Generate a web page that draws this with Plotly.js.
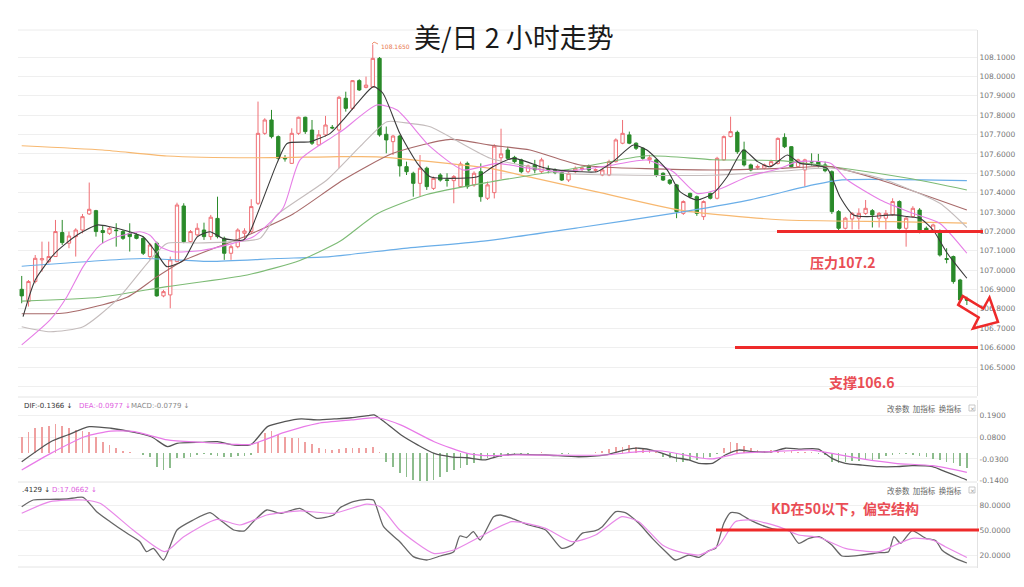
<!DOCTYPE html>
<html><head><meta charset="utf-8">
<script src="https://cdn.plot.ly/plotly-3.0.1.min.js"></script>
<style>html,body{margin:0;padding:0;background:#fff}#chart{width:1024px;height:587px}</style>
</head><body><div id="chart"></div>
<script>
// ---------- price candles (2h bars) ----------
const priceOpen = [106.901,106.838,106.941,107.053,107.044,107.070,107.194,107.139,107.173,107.207,
107.290,107.307,107.204,107.190,107.207,107.199,107.190,107.182,107.164,107.070,
107.139,106.867,106.872,107.044,107.331,107.147,107.182,107.207,107.173,107.267,
107.164,107.087,107.121,107.190,107.199,107.345,107.706,107.775,107.689,107.581,
107.551,107.706,107.789,107.723,107.646,107.698,107.737,107.723,107.887,107.835,
107.978,107.943,107.945,108.093,107.701,107.663,107.692,107.534,107.500,107.448,
107.526,107.422,107.491,107.466,107.462,107.431,107.551,107.440,107.508,107.371,
107.400,107.580,107.620,107.582,107.569,107.508,107.543,107.508,107.520,107.517,
107.503,107.465,107.508,107.522,107.538,107.515,107.491,107.491,107.560,107.655,
107.698,107.655,107.629,107.570,107.569,107.500,107.465,107.440,107.293,107.396,
107.379,107.276,107.396,107.371,107.569,107.689,107.711,107.620,107.543,107.530,
107.526,107.540,107.551,107.685,107.637,107.534,107.517,107.560,107.560,107.543,
107.508,107.302,107.216,107.264,107.268,107.293,107.307,107.268,107.268,107.285,
107.354,107.216,107.276,107.310,107.216,107.200,107.198,107.060,107.070,106.949,106.850];
const priceHigh = [106.970,106.949,107.078,107.147,107.147,107.259,107.259,107.199,107.216,107.290,
107.452,107.311,107.233,107.225,107.242,107.207,107.242,107.190,107.173,107.139,
107.147,106.898,107.070,107.348,107.345,107.207,107.242,107.245,107.285,107.379,
107.173,107.130,107.216,107.216,107.366,107.870,107.784,107.827,107.695,107.594,
107.732,107.792,107.792,107.775,107.723,107.796,107.749,107.899,107.921,107.981,
107.985,107.999,108.165,108.100,107.741,107.698,107.698,107.560,107.508,107.594,
107.534,107.483,107.500,107.500,107.491,107.560,107.560,107.510,107.551,107.457,
107.650,107.730,107.637,107.590,107.575,107.545,107.569,107.580,107.540,107.525,
107.510,107.505,107.535,107.535,107.545,107.525,107.525,107.570,107.680,107.775,
107.715,107.660,107.635,107.595,107.575,107.505,107.470,107.445,107.360,107.400,
107.385,107.360,107.400,107.585,107.695,107.792,107.720,107.663,107.550,107.545,
107.550,107.570,107.685,107.706,107.640,107.575,107.575,107.603,107.600,107.560,
107.515,107.310,107.275,107.300,107.319,107.362,107.315,107.300,107.310,107.371,
107.360,107.275,107.330,107.320,107.225,107.240,107.210,107.113,107.075,106.955,106.863];
const priceLow = [106.829,106.812,106.932,106.992,107.035,107.068,107.130,107.113,107.070,107.190,
107.285,107.173,107.139,107.182,107.121,107.156,107.096,107.159,107.078,107.053,
106.863,106.860,106.803,107.040,107.139,107.142,107.173,107.156,107.156,107.164,
107.053,107.053,107.113,107.156,107.190,107.336,107.698,107.680,107.569,107.560,
107.548,107.698,107.703,107.646,107.641,107.689,107.727,107.526,107.818,107.826,
107.925,107.938,107.940,107.689,107.603,107.594,107.483,107.491,107.379,107.379,
107.414,107.414,107.457,107.431,107.345,107.428,107.420,107.430,107.353,107.362,
107.370,107.470,107.569,107.550,107.500,107.500,107.500,107.500,107.500,107.495,
107.460,107.455,107.500,107.510,107.510,107.505,107.485,107.485,107.555,107.650,
107.650,107.620,107.570,107.550,107.480,107.460,107.440,107.268,107.285,107.370,
107.280,107.259,107.365,107.365,107.565,107.685,107.600,107.535,107.510,107.520,
107.520,107.535,107.545,107.630,107.530,107.530,107.431,107.540,107.530,107.505,
107.290,107.205,107.210,107.210,107.210,107.285,107.220,107.220,107.210,107.280,
107.210,107.121,107.270,107.190,107.195,107.195,107.070,107.035,106.930,106.840,106.820];
const priceClose = [106.867,106.941,107.061,107.059,107.070,107.199,107.142,107.176,107.207,107.276,
107.314,107.199,107.194,107.216,107.204,107.164,107.173,107.164,107.087,107.130,
106.867,106.889,107.053,107.336,107.147,107.199,107.216,107.173,107.273,107.173,
107.087,107.121,107.207,107.202,107.328,107.706,107.775,107.689,107.577,107.574,
107.706,107.789,107.715,107.655,107.698,107.749,107.734,107.892,107.835,107.978,
107.930,107.955,108.093,107.698,107.672,107.692,107.538,107.508,107.448,107.526,
107.431,107.474,107.465,107.463,107.483,107.548,107.431,107.500,107.379,107.440,
107.640,107.600,107.577,107.560,107.508,107.538,107.517,107.569,107.515,107.503,
107.465,107.500,107.526,107.526,107.517,107.518,107.517,107.560,107.672,107.706,
107.655,107.629,107.577,107.580,107.491,107.465,107.448,107.302,107.354,107.379,
107.293,107.354,107.371,107.577,107.689,107.715,107.611,107.543,107.517,107.535,
107.543,107.560,107.680,107.637,107.534,107.569,107.569,107.558,107.540,107.513,
107.302,107.216,107.268,107.293,107.293,107.319,107.285,107.293,107.293,107.354,
107.216,107.268,107.319,107.198,107.205,107.233,107.078,107.055,106.941,106.846,106.845];

// ---------- moving averages (read at bar positions) ----------
const ma5At  = [0.2,2,4.9,8.2,11.2,13.1,16,18,20,21.5,24,26,27.9,29.8,32.8,33.8,37.8,39.3,42.7,45.7,47.6,50.1,52.1,53.5,56,58.6,60.5,62.4,67.5,69.8,72.8,77.8,82.7,85.2,87.6,90.6,92.6,95.6,97.5,100,102.4,104.5,106.9,109,110.9,113.4,115.3,117.2,119.3,121.2,123.2,125.2,129.1,131.2,133.1,135,137.1,140];
const ma5    = [106.76,106.949,107.087,107.181,107.233,107.224,107.198,107.172,107.087,107.018,107.052,107.172,107.198,107.164,107.155,107.198,107.551,107.654,107.663,107.706,107.775,107.878,107.947,107.913,107.706,107.551,107.482,107.474,107.482,107.534,107.577,107.525,107.508,107.508,107.56,107.646,107.62,107.517,107.405,107.362,107.396,107.482,107.62,107.56,107.534,107.594,107.551,107.543,107.525,107.379,107.285,107.276,107.285,107.276,107.267,107.207,107.087,106.958];
const ma10At = [0,4.2,6.7,9.1,11.6,14.1,17.5,19,20.5,22.4,26.4,31.3,34.3,38.7,41.2,46.1,47.6,52.6,55.6,60.5,65.4,70.4,75.3,80.2,87.6,92.6,96.5,100,103.5,107.5,112.3,114.9,119.8,122.3,127.2,132,136,140];
const ma10   = [106.614,106.743,106.863,107.018,107.13,107.172,107.198,107.18,107.121,107.095,107.1,107.138,107.172,107.319,107.568,107.689,107.723,107.852,107.826,107.637,107.517,107.551,107.525,107.508,107.543,107.568,107.508,107.396,107.42,107.482,107.525,107.56,107.551,107.465,107.362,107.293,107.241,107.087];
const ma20At = [0,4.2,9.1,14.1,19,21.5,26,31.3,35.3,37.8,45.2,50.1,54.1,57.5,60.5,69.4,75.3,80.2,102.4,112.3,119.8,127.2,136,140];
const ma20   = [106.708,106.682,106.708,106.846,107.052,107.138,107.14,107.147,107.164,107.285,107.465,107.637,107.766,107.757,107.74,107.577,107.534,107.5,107.49,107.51,107.527,107.474,107.345,107.22];
const ma30At = [0,6.7,15.6,20,24,32.8,40.2,47.6,55,63.5,69.4,75.3,82.7,102.4,112.3,119.8,127.2,140];
const ma30   = [106.775,106.78,106.86,106.965,107.05,107.17,107.29,107.465,107.603,107.675,107.645,107.62,107.543,107.517,107.525,107.534,107.465,107.31];
const ma60At = [0,11.6,21.5,33.4,41.2,47.2,52.6,60,69.4,82.7,92.6,102.4,112.3,119.8,132,140];
const ma60   = [106.84,106.86,106.915,106.975,107.05,107.15,107.29,107.39,107.455,107.53,107.59,107.57,107.565,107.535,107.47,107.414];
const ma120At = [0,18,28,38,45.7,56,68.4,82.7,96,107.5,117.2,121.2,140];
const ma120   = [107.02,107.06,107.045,107.06,107.07,107.11,107.15,107.22,107.29,107.36,107.44,107.465,107.462];
const ma200At = [0,12,21.5,34.3,45.7,52.6,62,69.4,75.3,85.7,97.5,112.3,129,140];
const ma200   = [107.642,107.62,107.589,107.58,107.585,107.585,107.555,107.525,107.48,107.40,107.31,107.26,107.25,107.243];

// ---------- MACD ----------
const macdHist = [0.082,0.108,0.128,0.133,0.138,0.145,0.138,0.128,0.116,0.111,0.108,0.082,0.057,0.040,0.024,0.010,0.003,
0.001,-0.008,-0.020,-0.069,-0.086,-0.077,-0.027,-0.024,-0.019,-0.010,-0.007,-0.010,-0.013,-0.019,-0.019,-0.017,-0.013,-0.010,
0.057,0.099,0.111,0.091,0.082,0.077,0.077,0.057,0.044,0.024,0.020,0.015,0.019,0.024,0.024,0.024,0.024,0.032,0.003,
-0.044,-0.069,-0.103,-0.120,-0.136,-0.141,-0.141,-0.136,-0.120,-0.098,-0.086,-0.077,-0.061,-0.052,-0.035,-0.027,-0.024,-0.019,-0.013,
-0.008,-0.005,-0.003,0.002,0.003,0.001,-0.002,-0.004,-0.003,-0.002,0.001,0.002,0.003,0.008,
0.020,0.030,0.032,0.040,0.032,0.024,0.015,0.007,
-0.019,-0.027,-0.044,-0.044,-0.035,-0.035,-0.027,-0.019,-0.003,
0.024,0.054,0.049,0.037,0.024,0.015,0.010,0.013,0.010,0.007,0.010,0.007,0.003,0.003,
-0.003,-0.010,-0.044,-0.052,-0.044,-0.040,-0.040,-0.035,-0.035,-0.030,-0.013,-0.010,-0.007,-0.007,-0.010,-0.013,-0.019,-0.030,-0.035,-0.044,-0.052,-0.064,-0.078];
const difAt = [0,4.3,6.8,10,13.2,16.7,19.2,21.6,23,26.6,29,31.5,34,36.4,38.9,41.4,43.9,46.3,48.8,51.3,52.2,53.7,56.2,58.7,61.1,63.6,66,68.5,71,72.8,77.6,82.5,86.5,89.9,91.4,93.9,96.3,98.8,100.3,102.3,104.2,106.2,108.2,111.2,113.1,115.1,118,120,122,124.5,127,129.4,131.9,134.9,136.8,138.8,140];
const dif   = [-0.044,0.057,0.091,0.133,0.125,0.104,0.082,0.032,0.049,0.054,0.057,0.040,0.044,0.133,0.158,0.172,0.167,0.172,0.178,0.189,0.192,0.158,0.091,0.040,-0.002,-0.019,-0.024,-0.035,-0.013,-0.007,-0.010,-0.019,-0.010,0.020,0.024,0.010,-0.019,-0.035,-0.052,-0.052,-0.010,0.015,0.007,0.007,0.024,0.020,0.020,-0.027,-0.052,-0.061,-0.069,-0.069,-0.064,-0.069,-0.094,-0.120,-0.1366];
const deaAt = [0,4.3,9.3,13.2,16.7,21.6,26.6,31.5,34,38.9,43.9,48.8,52.7,56.2,61.1,66,68.5,72.8,86.5,91.4,94.9,100.3,102.3,106.2,111.2,117,120,124.5,129.4,134.9,140];
const dea   = [-0.086,-0.002,0.082,0.111,0.108,0.066,0.054,0.044,0.044,0.104,0.150,0.167,0.178,0.141,0.057,-0.002,-0.013,-0.010,-0.010,0.007,0.010,-0.024,-0.030,-0.002,0.007,0.015,-0.002,-0.030,-0.052,-0.064,-0.0977];
const macdTicks = [0.19,0.08,-0.03,-0.14];
const macdTickText = ['0.1900','0.0800','-0.0300','-0.1400'];

// ---------- KD ----------
const kAt = [0,1.7,4.2,6.7,9.1,11.1,13.1,15.6,17.5,18.5,19.5,21,23,25.4,27.9,29.4,31.4,33,34.3,36.3,38.3,41.2,43.7,46.2,47.2,49.1,51.1,52.1,53.6,56,58,60,62,64,64.9,65.9,66.9,67.9,69.9,70.9,72.6,75.1,77.6,80,81.5,83,85,86,88,89.4,91.4,93.4,95.4,96.8,98.8,100.3,101.8,102.8,104,105,106.2,107.7,110.2,112.1,113.6,115.1,116.6,118.1,120,121.5,124.5,127,128.4,129.2,130.2,131.9,133.9,135.4,136.3,138.3,140];
const kVal = [78,86,86.8,87.2,89.2,72,60,46,36,24,28,14,50,62,70.8,62,50,49,60,74,70,76,64,68,77,84,86.8,86,54,36,18,14,18.8,24,42.8,41,48,38,66,68,64,56,50,28,32,46,49.2,54,72,70.8,58,40,24,14,20,17.2,25.2,28,58,70.8,70,62.8,54,50,50,34,40,42,32,18.8,20,22.8,24,42,34,49.2,40,37.2,26,16,10.4];
const dAt = [0,4.2,9.1,11.6,16.5,21.2,24,28.9,32.3,36.3,41.2,46.2,51.1,53.1,56,61,64,67.9,72.6,77.6,81.5,85,88.9,91.4,94.9,97.3,100.3,103.3,105.7,108.2,112.1,115.1,118.1,122,127,129.4,131.9,134.9,136.8,140];
const dVal = [70,84,86,82,50,24,42,62.8,56,68,73,70,81,78,50,22,26,42,60,52,36,44,66,60,32,24,20,32,60,62,54,44,41,28,24,32,40,38,30,17.07];
const kdTicks = [80,50,20];
const kdTickText = ['80.0000','50.0000','20.0000'];

// ---------- price axis labels ----------
const priceTickVals = [106.4,106.5,106.6,106.7,106.8,106.9,107.0,107.1,107.2,107.3,107.4,107.5,107.6,107.7,107.8,107.9,108.0,108.1];
const priceTickText = ['','106.5000','106.6000','106.7000','106.8000','106.9000','107.0000','107.1000','107.2000','107.3000','107.4000','107.5000','107.6000','107.7000','107.8000','107.9000','108.0000','108.1000'];
const resistanceLevel = 107.2, supportLevel = 106.6, kdLevel = 50;

// ---------- layout helpers (pixel -> paper) ----------
const W = 1024, H = 587, ML = 18, MR = 47;
const px = x => (x - ML) / (W - ML - MR);
const py = y => 1 - y / H;
const idx = priceClose.map((_, i) => i);

const line = (xs, ys, color, yaxis, w) => ({type:'scatter', mode:'lines', x:xs, y:ys, yaxis:yaxis,
  line:{color:color, width:w||1, shape:'spline', smoothing:0.6}, hoverinfo:'skip', showlegend:false});

const traces = [
  {type:'candlestick', x:idx, open:priceOpen, high:priceHigh, low:priceLow, close:priceClose, yaxis:'y',
   increasing:{line:{color:'#ef6f75', width:1}, fillcolor:'#ffffff'},
   decreasing:{line:{color:'#2a8a2a', width:1}, fillcolor:'#2a8a2a'},
   whiskerwidth:0, hoverinfo:'skip', showlegend:false},
  line(ma200At, ma200, '#f7b870', 'y', 1.2),
  line(ma120At, ma120, '#6aaee8', 'y', 1.2),
  line(ma60At, ma60, '#7dbb75', 'y', 1.1),
  line(ma30At, ma30, '#a86a6a', 'y', 1.1),
  line(ma20At, ma20, '#c4bcbc', 'y', 1.1),
  line(ma10At, ma10, '#e67ee6', 'y', 1.1),
  line(ma5At, ma5, '#3a3a3a', 'y', 1.1),
  {type:'bar', x:idx, y:macdHist, yaxis:'y2', width:0.25,
   marker:{color:macdHist.map(v => v >= 0 ? '#efa0a0' : '#8cbc8c'), line:{width:0}},
   hoverinfo:'skip', showlegend:false},
  line(difAt, dif, '#555555', 'y2', 1.3),
  line(deaAt, dea, '#e87ae8', 'y2', 1.2),
  line(kAt, kVal, '#666666', 'y3', 1.3),
  line(dAt, dVal, '#e889e8', 'y3', 1.2)
];

const tf = {family:'DejaVu Sans', size:7.5, color:'#777'};
const redText = {family:'Noto Sans CJK SC', size:14, color:'#ea4d55', weight:'bold'};
const layout = {
  width:W, height:H, margin:{l:ML, r:MR, t:0, b:0},
  paper_bgcolor:'#ffffff', plot_bgcolor:'#ffffff', showlegend:false, bargap:0,
  xaxis:{domain:[0,1], range:[-0.55, 141.5], showticklabels:false, showgrid:false, zeroline:false,
         rangeslider:{visible:false}, anchor:'y3', fixedrange:true, ticks:''},
  yaxis:{domain:[py(396), py(30)], range:[106.3503, 108.2394], side:'right', anchor:'x',
         tickvals:priceTickVals, ticktext:priceTickText, tickfont:tf, gridcolor:'#efefef', gridwidth:1,
         zeroline:false, showline:true, linecolor:'#e2e2e2', ticks:'', fixedrange:true},
  yaxis2:{domain:[py(481), py(400)], range:[-0.1414, 0.2677], side:'right', anchor:'x',
         tickvals:macdTicks, ticktext:macdTickText, tickfont:tf, gridcolor:'#f0f0f0',
         zeroline:false, showline:true, linecolor:'#e2e2e2', ticks:'', fixedrange:true},
  yaxis3:{domain:[py(568), py(483)], range:[4.4, 106.4], side:'right', anchor:'x',
         tickvals:kdTicks, ticktext:kdTickText, tickfont:tf, gridcolor:'#f0f0f0',
         zeroline:false, showline:true, linecolor:'#e2e2e2', ticks:'', fixedrange:true},
  shapes:[
    {type:'line', xref:'paper', yref:'paper', x0:0, x1:px(977), y0:py(30), y1:py(30), line:{color:'#ececec', width:1}},
    {type:'line', xref:'paper', yref:'paper', x0:0, x1:px(977), y0:py(397), y1:py(397), line:{color:'#e4e4e4', width:1}},
    {type:'line', xref:'paper', yref:'paper', x0:0, x1:px(977), y0:py(482), y1:py(482), line:{color:'#e4e4e4', width:1}},
    {type:'line', xref:'paper', yref:'paper', x0:0, x1:px(977), y0:py(567), y1:py(567), line:{color:'#e4e4e4', width:1}},
    {type:'line', xref:'paper', yref:'y', x0:px(777), x1:px(983), y0:resistanceLevel, y1:resistanceLevel, line:{color:'#ee2a2a', width:3}},
    {type:'line', xref:'paper', yref:'y', x0:px(735), x1:px(978), y0:supportLevel, y1:supportLevel, line:{color:'#ee2a2a', width:3}},
    {type:'line', xref:'paper', yref:'y3', x0:px(716), x1:px(979), y0:kdLevel, y1:kdLevel, line:{color:'#ee2a2a', width:3}},
    {type:'path', xref:'paper', yref:'paper', line:{color:'#ee2a2a', width:2.5}, fillcolor:'rgba(255,255,255,0)',
     path:'M'+[[958.2,304.9],[978.7,317.4],[973,328.5],[998,322],[989.5,297.5],[983.3,308.6],[962.8,296.1]].map(p=>px(p[0])+','+py(p[1])).join(' L')+' Z'},
    {type:'path', xref:'paper', yref:'paper', line:{color:'#e8774f', width:0.8},
     path:'M'+px(372)+','+py(44)+' L'+px(374)+','+py(42)+' L'+px(378)+','+py(44)},
    {type:'rect', xref:'paper', yref:'paper', x0:px(969), x1:px(975), y0:py(411), y1:py(405), line:{color:'#bbb', width:0.8}},
    {type:'rect', xref:'paper', yref:'paper', x0:px(969), x1:px(975), y0:py(493), y1:py(487), line:{color:'#bbb', width:0.8}}
  ],
  annotations:[
    {text:'美/日 2 小时走势', xref:'paper', yref:'paper', x:px(514), y:py(37), showarrow:false,
     font:{family:'Noto Sans CJK SC', size:27, color:'#1a1a1a'}, xanchor:'center', yanchor:'middle'},
    {text:'108.1650', xref:'paper', yref:'paper', x:px(379), y:py(46), showarrow:false, xanchor:'left', yanchor:'middle',
     font:{family:'DejaVu Sans', size:6, color:'#e8774f'}},
    {text:'压力107.2', xref:'paper', yref:'paper', x:px(843), y:py(262), showarrow:false, xanchor:'center', yanchor:'middle', font:redText},
    {text:'支撑106.6', xref:'paper', yref:'paper', x:px(862), y:py(382), showarrow:false, xanchor:'center', yanchor:'middle', font:redText},
    {text:'KD在50以下，偏空结构', xref:'paper', yref:'paper', x:px(845), y:py(508), showarrow:false, xanchor:'center', yanchor:'middle', font:redText},
    {text:'DIF:-0.1366 ↓', xref:'paper', yref:'paper', x:px(22), y:py(406), showarrow:false, xanchor:'left', yanchor:'middle',
     font:{family:'DejaVu Sans', size:7, color:'#333'}},
    {text:'DEA:-0.0977 ↓', xref:'paper', yref:'paper', x:px(77), y:py(406), showarrow:false, xanchor:'left', yanchor:'middle',
     font:{family:'DejaVu Sans', size:7, color:'#e060e0'}},
    {text:'MACD:-0.0779 ↓', xref:'paper', yref:'paper', x:px(129), y:py(406), showarrow:false, xanchor:'left', yanchor:'middle',
     font:{family:'DejaVu Sans', size:7, color:'#888'}},
    {text:'.4129 ↓', xref:'paper', yref:'paper', x:px(20), y:py(490), showarrow:false, xanchor:'left', yanchor:'middle',
     font:{family:'DejaVu Sans', size:7, color:'#333'}},
    {text:'D:17.0662 ↓', xref:'paper', yref:'paper', x:px(50), y:py(490), showarrow:false, xanchor:'left', yanchor:'middle',
     font:{family:'DejaVu Sans', size:7, color:'#e060e0'}},
    {text:'改参数  加指标  换指标', xref:'paper', yref:'paper', x:px(964), y:py(408), showarrow:false, xanchor:'right', yanchor:'middle',
     font:{family:'Noto Sans CJK SC', size:7.5, color:'#666'}},
    {text:'改参数  加指标  换指标', xref:'paper', yref:'paper', x:px(964), y:py(490), showarrow:false, xanchor:'right', yanchor:'middle',
     font:{family:'Noto Sans CJK SC', size:7.5, color:'#666'}},
    {text:'×', xref:'paper', yref:'paper', x:px(972), y:py(408), showarrow:false, xanchor:'center', yanchor:'middle',
     font:{family:'DejaVu Sans', size:6, color:'#999'}},
    {text:'×', xref:'paper', yref:'paper', x:px(972), y:py(490), showarrow:false, xanchor:'center', yanchor:'middle',
     font:{family:'DejaVu Sans', size:6, color:'#999'}}
  ]
};
Plotly.newPlot('chart', traces, layout, {staticPlot:true, displayModeBar:false});
</script></body></html>
